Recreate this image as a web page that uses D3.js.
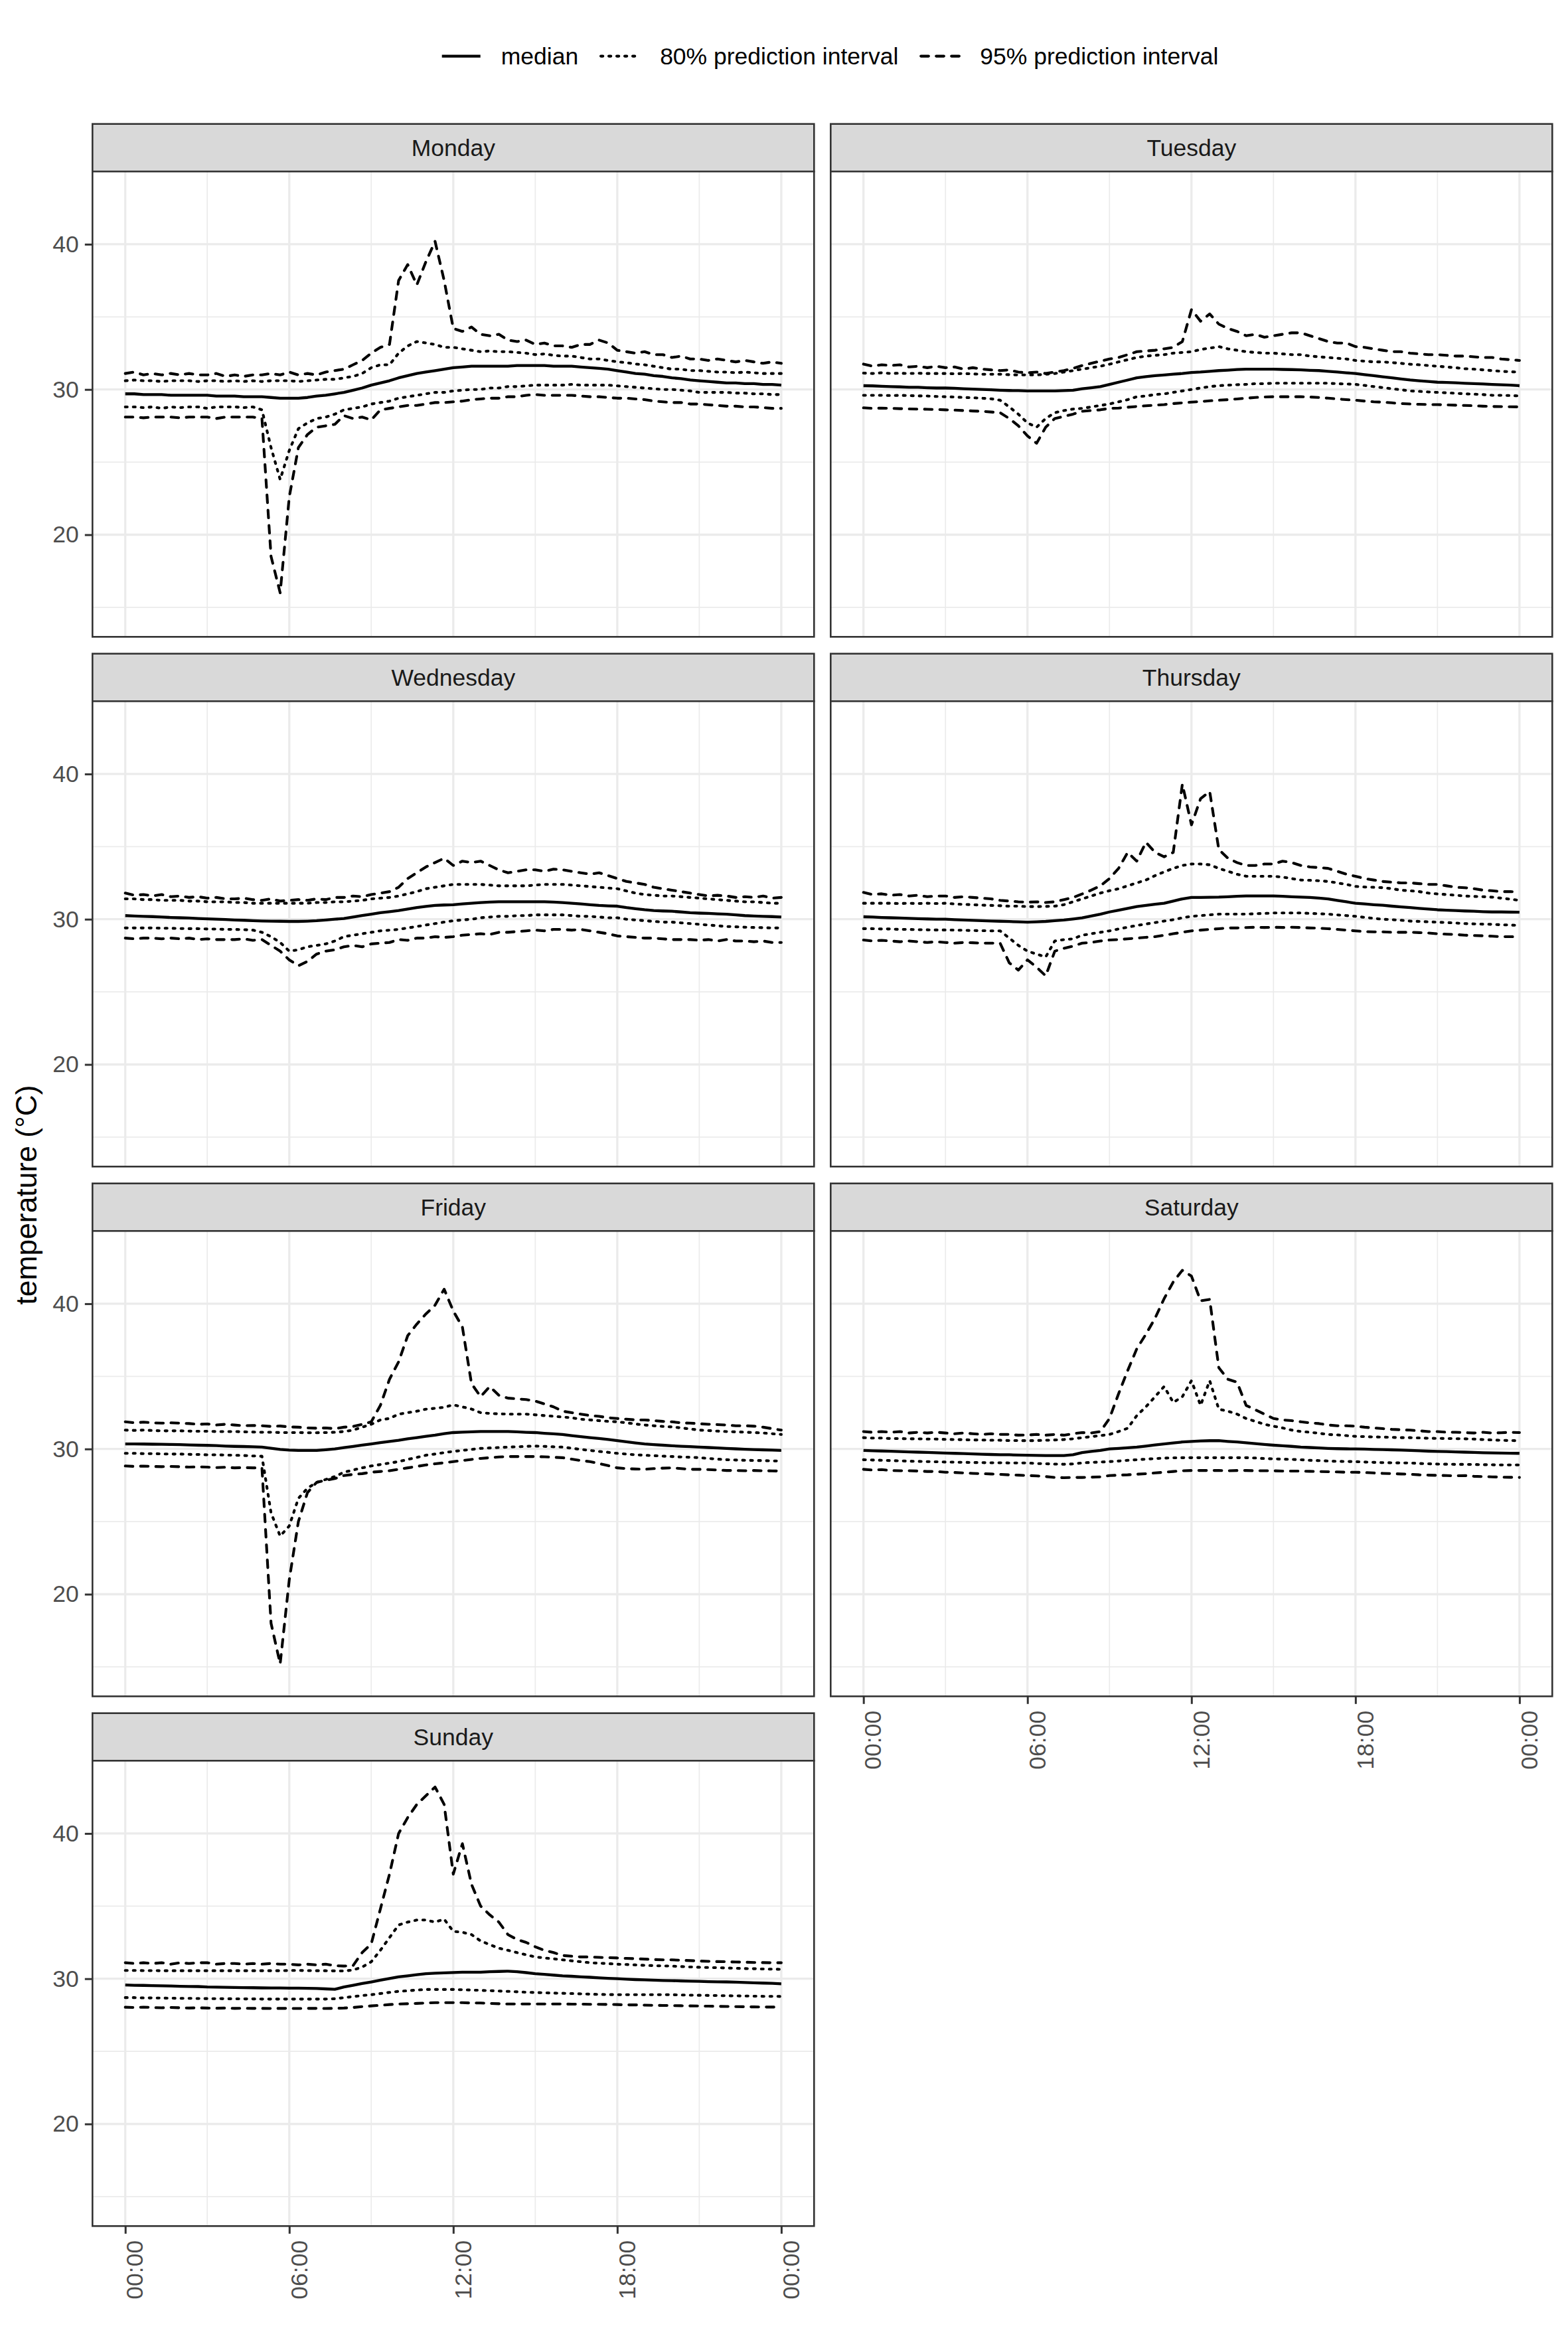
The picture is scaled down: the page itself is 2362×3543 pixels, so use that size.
<!DOCTYPE html>
<html>
<head>
<meta charset="utf-8">
<script src="https://cdn.jsdelivr.net/npm/d3@7"></script>
<style>
  body { margin: 0; background: #fff; }
</style>
</head>
<body>
<div id="chart"></div>
<script>
// ---- data: 20-minute steps from 00:00 to 24:00 (73 values per series) ----
const days = ["Monday", "Tuesday", "Wednesday", "Thursday", "Friday", "Saturday", "Sunday"];
const xTicks = [0, 6, 12, 18, 24];
const xLabels = ["00:00", "06:00", "12:00", "18:00", "00:00"];
const yTicks = [20, 30, 40];
const legendKeys = ["median", "80% prediction interval", "95% prediction interval"];

const monMed = [29.7,29.7,29.65, 29.65,29.65,29.6, 29.6,29.6,29.6, 29.6,29.55,29.55, 29.55,29.5,29.5, 29.5,29.45,29.4,
  29.4,29.4,29.45, 29.55,29.6,29.7, 29.8,29.95,30.1, 30.3,30.45,30.6, 30.8,30.95,31.1, 31.2,31.3,31.4,
  31.5,31.55,31.6, 31.6,31.6,31.6, 31.6,31.65,31.65, 31.65,31.65,31.6, 31.6,31.6,31.55, 31.5,31.45,31.4,
  31.3,31.2,31.1, 31.05,30.95,30.9, 30.8,30.75,30.65, 30.6,30.55,30.5, 30.45,30.45,30.4, 30.4,30.35,30.35, 30.3];
const monHi80 = [30.6,30.65,30.6, 30.6,30.55,30.6, 30.6,30.6,30.55, 30.6,30.6,30.55, 30.6,30.55,30.6, 30.55,30.6,30.6,
  30.6,30.55,30.6, 30.65,30.7,30.7, 30.8,30.9,31.1, 31.5,31.7,31.7, 32.5,33.0,33.3, 33.2,33.1,32.9,
  32.9,32.8,32.7, 32.6,32.65,32.6, 32.6,32.55,32.5, 32.4,32.45,32.35, 32.3,32.3,32.2, 32.1,32.1,32.0,
  31.9,31.85,31.75, 31.7,31.6,31.5, 31.4,31.4,31.3, 31.3,31.25,31.2, 31.2,31.15,31.2, 31.15,31.1,31.1, 31.1];
const monHi95 = [31.1,31.2,31.0, 31.1,31.0,31.1, 31.0,31.1,31.0, 31.0,31.1,30.9, 31.0,30.9,31.0, 31.0,31.1,31.0,
  31.2,31.0,31.1, 31.0,31.2,31.3, 31.4,31.7,32.0, 32.5,32.9,33.1, 37.5,38.6,37.2, 38.8,40.2,37.5,
  34.2,34.0,34.3, 33.8,33.7,33.8, 33.4,33.3,33.4, 33.1,33.2,33.0, 33.0,32.9,33.1, 33.1,33.4,33.2,
  32.7,32.6,32.5, 32.6,32.4,32.4, 32.2,32.3,32.1, 32.1,32.0,32.1, 32.0,31.9,32.0, 31.9,31.8,31.9, 31.8];
const monLo80 = [28.8,28.8,28.75, 28.8,28.7,28.8, 28.75,28.8,28.8, 28.7,28.8,28.8, 28.8,28.75,28.8, 28.6,26.0,23.8,
  25.8,27.3,27.7, 28.0,28.1,28.3, 28.6,28.7,28.8, 29.0,29.1,29.2, 29.4,29.5,29.6, 29.7,29.8,29.8,
  29.9,29.95,30.0, 30.0,30.1,30.1, 30.2,30.2,30.25, 30.3,30.3,30.3, 30.3,30.35,30.3, 30.3,30.3,30.3,
  30.25,30.2,30.15, 30.1,30.05,30.0, 30.0,29.95,29.9, 29.8,29.8,29.8, 29.8,29.75,29.75, 29.7,29.7,29.65, 29.65];
const monLo95 = [28.1,28.1,28.05, 28.1,28.1,28.1, 28.05,28.1,28.1, 28.1,28.0,28.1, 28.1,28.1,28.1, 28.0,18.5,16.0,
  22.6,26.0,26.9, 27.4,27.5,27.6, 28.2,28.0,28.1, 27.9,28.6,28.7, 28.8,28.9,28.9, 29.0,29.1,29.1,
  29.15,29.2,29.3, 29.35,29.4,29.4, 29.5,29.5,29.6, 29.65,29.6,29.6, 29.6,29.6,29.55, 29.5,29.5,29.45,
  29.4,29.4,29.35, 29.3,29.2,29.15, 29.1,29.1,29.0, 29.0,28.95,28.9, 28.85,28.85,28.8, 28.8,28.75,28.7, 28.7];

const tueMed = [30.26,30.25,30.22, 30.2,30.18,30.15, 30.15,30.12,30.1, 30.1,30.08,30.05, 30.03,30.0,29.98, 29.95,29.93,29.92,
  29.9,29.9,29.9, 29.9,29.92,29.95, 30.05,30.12,30.2, 30.35,30.5,30.65, 30.8,30.88,30.95, 31.0,31.05,31.1,
  31.17,31.2,31.25, 31.3,31.33,31.37, 31.4,31.4,31.4, 31.4,31.38,31.37, 31.35,31.32,31.3, 31.25,31.2,31.15,
  31.1,31.02,30.95, 30.87,30.8,30.72, 30.65,30.6,30.55, 30.5,30.48,30.46, 30.43,30.4,30.38, 30.35,30.32,30.3, 30.26];
const tueHi80 = [31.13,31.1,31.15, 31.1,31.12,31.1, 31.12,31.1,31.1, 31.1,31.08,31.1, 31.07,31.05,31.05, 31.05,31.02,31.0,
  31.0,31.0,31.05, 31.1,31.2,31.3, 31.4,31.5,31.6, 31.74,31.9,32.05, 32.2,32.3,32.35, 32.4,32.5,32.55,
  32.6,32.75,32.85, 32.95,32.8,32.7, 32.6,32.55,32.5, 32.5,32.45,32.4, 32.4,32.3,32.25, 32.2,32.15,32.1,
  32.0,31.95,31.9, 31.9,31.85,31.8, 31.74,31.7,31.65, 31.6,31.55,31.5, 31.43,31.4,31.35, 31.3,31.25,31.22, 31.2];
const tueHi95 = [31.75,31.6,31.7, 31.65,31.7,31.55, 31.6,31.5,31.6, 31.5,31.55,31.4, 31.5,31.4,31.35, 31.3,31.35,31.2,
  31.15,31.2,31.1, 31.2,31.3,31.45, 31.65,31.8,31.95, 32.1,32.2,32.4, 32.6,32.65,32.7, 32.8,32.9,33.3,
  35.5,34.7,35.2, 34.5,34.2,34.0, 33.7,33.8,33.6, 33.7,33.8,33.9, 33.9,33.7,33.5, 33.3,33.2,33.2,
  32.95,32.9,32.8, 32.7,32.6,32.6, 32.5,32.45,32.4, 32.4,32.35,32.3, 32.3,32.25,32.2, 32.2,32.1,32.05, 32.0];
const tueLo80 = [29.6,29.6,29.6, 29.58,29.6,29.58, 29.56,29.55,29.52, 29.5,29.48,29.45, 29.43,29.4,29.36, 29.26,28.8,28.3,
  27.7,27.4,28.0, 28.4,28.55,28.65, 28.7,28.8,28.9, 29.0,29.15,29.3, 29.5,29.55,29.65, 29.7,29.8,29.9,
  30.0,30.1,30.2, 30.26,30.3,30.33, 30.35,30.4,30.4, 30.43,30.43,30.43, 30.43,30.43,30.43, 30.43,30.4,30.38,
  30.35,30.28,30.2, 30.13,30.05,29.98, 29.9,29.87,29.83, 29.8,29.77,29.74, 29.7,29.68,29.65, 29.6,29.6,29.58, 29.56];
const tueLo95 = [28.74,28.7,28.72, 28.7,28.68,28.66, 28.65,28.64,28.62, 28.6,28.58,28.55, 28.52,28.5,28.45, 28.4,28.0,27.5,
  26.8,26.3,27.4, 28.0,28.15,28.3, 28.5,28.55,28.6, 28.7,28.72,28.78, 28.83,28.88,28.92, 28.96,29.03,29.08,
  29.13,29.17,29.22, 29.26,29.3,29.35, 29.4,29.45,29.48, 29.5,29.5,29.5, 29.5,29.48,29.45, 29.4,29.35,29.3,
  29.26,29.2,29.15, 29.13,29.08,29.03, 29.0,28.98,28.96, 28.96,28.94,28.92, 28.9,28.88,28.85, 28.83,28.82,28.81, 28.8];

const wedMed = [30.25,30.22,30.2, 30.18,30.15,30.12, 30.1,30.08,30.05, 30.03,30.0,29.98, 29.95,29.93,29.9, 29.88,29.87,29.86,
  29.85,29.85,29.87, 29.9,29.95,30.0, 30.05,30.15,30.25, 30.35,30.45,30.52, 30.6,30.7,30.8, 30.88,30.95,30.98,
  31.0,31.05,31.1, 31.15,31.18,31.2, 31.2,31.2,31.2, 31.2,31.2,31.18, 31.15,31.1,31.05, 31.0,30.95,30.92,
  30.9,30.8,30.72, 30.65,30.6,30.57, 30.55,30.5,30.45, 30.42,30.4,30.37, 30.35,30.3,30.25, 30.22,30.2,30.18, 30.15];
const wedHi80 = [31.4,31.4,31.35, 31.35,31.3,31.3, 31.3,31.25,31.25, 31.2,31.2,31.2, 31.15,31.15,31.1, 31.1,31.1,31.1,
  31.1,31.1,31.1, 31.15,31.15,31.2, 31.2,31.25,31.3, 31.4,31.45,31.5, 31.6,31.75,31.9, 32.1,32.2,32.3,
  32.4,32.4,32.4, 32.4,32.35,32.3, 32.3,32.3,32.3, 32.35,32.4,32.4, 32.4,32.35,32.3, 32.25,32.2,32.15,
  32.1,31.95,31.8, 31.7,31.65,31.6, 31.6,31.55,31.5, 31.45,31.4,31.35, 31.3,31.25,31.2, 31.2,31.15,31.1, 31.1];
const wedHi95 = [31.8,31.65,31.7, 31.6,31.7,31.55, 31.6,31.5,31.55, 31.45,31.5,31.4, 31.4,31.45,31.35, 31.3,31.4,31.25,
  31.3,31.35,31.3, 31.4,31.35,31.5, 31.5,31.6,31.55, 31.7,31.8,31.9, 32.2,32.8,33.2, 33.6,33.9,34.2,
  33.7,34.0,33.9, 34.0,33.7,33.4, 33.2,33.3,33.4, 33.4,33.3,33.45, 33.4,33.3,33.2, 33.1,33.2,33.0,
  32.8,32.6,32.5, 32.4,32.2,32.1, 32.0,31.9,31.8, 31.7,31.6,31.65, 31.6,31.5,31.55, 31.5,31.6,31.45, 31.5];
const wedLo80 = [29.4,29.4,29.4, 29.4,29.38,29.38, 29.36,29.35,29.35, 29.33,29.32,29.3, 29.3,29.28,29.25, 29.1,28.8,28.4,
  27.8,27.9,28.1, 28.2,28.3,28.5, 28.8,28.9,29.0, 29.1,29.2,29.25, 29.3,29.4,29.5, 29.6,29.7,29.8,
  29.9,29.95,30.0, 30.1,30.15,30.2, 30.2,30.25,30.25, 30.3,30.3,30.3, 30.3,30.25,30.2, 30.2,30.15,30.1,
  30.1,30.0,29.95, 29.9,29.85,29.8, 29.8,29.75,29.7, 29.65,29.6,29.55, 29.5,29.48,29.45, 29.43,29.42,29.4, 29.4];
const wedLo95 = [28.7,28.65,28.7, 28.7,28.65,28.7, 28.65,28.7,28.6, 28.65,28.6,28.6, 28.6,28.65,28.55, 28.6,28.2,27.8,
  27.2,26.8,27.1, 27.6,27.8,27.9, 28.1,28.2,28.1, 28.3,28.35,28.4, 28.6,28.55,28.7, 28.7,28.8,28.75,
  28.8,28.9,28.95, 29.0,28.95,29.1, 29.1,29.15,29.2, 29.25,29.2,29.3, 29.3,29.25,29.3, 29.2,29.1,29.0,
  28.85,28.8,28.75, 28.7,28.7,28.65, 28.6,28.6,28.6, 28.55,28.6,28.5, 28.6,28.5,28.5, 28.45,28.5,28.4, 28.4];

const thuMed = [30.17,30.15,30.12, 30.1,30.08,30.06, 30.04,30.02,30.0, 30.0,29.97,29.95, 29.92,29.9,29.88, 29.86,29.84,29.82,
  29.8,29.82,29.85, 29.9,29.95,30.02, 30.1,30.22,30.35, 30.5,30.62,30.75, 30.87,30.95,31.03, 31.1,31.25,31.4,
  31.5,31.5,31.51, 31.52,31.55,31.58, 31.6,31.6,31.6, 31.6,31.58,31.55, 31.52,31.5,31.45, 31.4,31.3,31.2,
  31.1,31.05,31.0, 30.96,30.9,30.85, 30.8,30.75,30.7, 30.65,30.62,30.6, 30.57,30.55,30.52, 30.5,30.5,30.49, 30.48];
const thuHi80 = [31.1,31.1,31.1, 31.1,31.08,31.1, 31.08,31.1,31.08, 31.1,31.05,31.02, 31.0,30.97,30.95, 30.93,30.9,30.9,
  30.87,30.87,30.88, 30.9,31.0,31.2, 31.4,31.6,31.8, 31.96,32.1,32.3, 32.5,32.7,33.0, 33.26,33.5,33.7,
  33.8,33.8,33.75, 33.5,33.3,33.1, 32.96,32.96,32.96, 32.96,32.9,32.8, 32.7,32.68,32.65, 32.6,32.5,32.4,
  32.26,32.22,32.2, 32.17,32.1,32.0, 31.96,31.9,31.8, 31.74,31.7,31.65, 31.6,31.57,31.55, 31.52,31.45,31.38, 31.3];
const thuHi95 = [31.85,31.7,31.75, 31.65,31.7,31.6, 31.65,31.55,31.6, 31.6,31.5,31.55, 31.5,31.45,31.4, 31.3,31.25,31.2,
  31.17,31.2,31.15, 31.2,31.35,31.5, 31.74,32.0,32.3, 32.8,33.5,34.6, 34.0,35.3,34.6, 34.3,34.6,39.3,
  36.5,38.3,38.8, 34.8,34.2,33.9, 33.7,33.7,33.8, 33.8,34.0,33.9, 33.7,33.6,33.55, 33.5,33.3,33.1,
  32.96,32.8,32.7, 32.6,32.55,32.5, 32.5,32.45,32.4, 32.4,32.3,32.2, 32.17,32.1,32.0, 31.96,31.9,31.9, 31.87];
const thuLo80 = [29.35,29.35,29.33, 29.33,29.3,29.3, 29.28,29.27,29.26, 29.26,29.25,29.24, 29.22,29.21,29.2, 29.2,28.7,28.2,
  27.8,27.6,27.4, 28.5,28.6,28.65, 28.9,29.0,29.1, 29.2,29.33,29.45, 29.57,29.67,29.77, 29.87,29.97,30.1,
  30.2,30.25,30.3, 30.35,30.35,30.35, 30.35,30.38,30.4, 30.43,30.43,30.43, 30.43,30.4,30.38, 30.35,30.3,30.25,
  30.2,30.13,30.06, 30.0,29.97,29.93, 29.87,29.85,29.82, 29.8,29.77,29.74, 29.7,29.68,29.66, 29.65,29.62,29.6, 29.57];
const thuLo95 = [28.57,28.5,28.55, 28.5,28.45,28.5, 28.45,28.4,28.45, 28.4,28.35,28.4, 28.38,28.35,28.35, 28.35,27.0,26.5,
  27.2,26.7,26.1, 27.8,28.0,28.15, 28.35,28.4,28.5, 28.57,28.6,28.65, 28.7,28.75,28.8, 28.9,29.0,29.1,
  29.2,29.25,29.3, 29.35,29.4,29.4, 29.43,29.45,29.43, 29.45,29.43,29.45, 29.43,29.4,29.38, 29.35,29.3,29.25,
  29.2,29.15,29.13, 29.13,29.1,29.1, 29.1,29.08,29.05, 29.0,28.97,28.95, 28.9,28.88,28.86, 28.83,28.8,28.8, 28.78];

const friMed = [30.35,30.35,30.34, 30.33,30.32,30.31, 30.3,30.28,30.26, 30.25,30.23,30.2, 30.18,30.17,30.15, 30.13,30.05,29.97,
  29.92,29.9,29.9, 29.9,29.95,30.0, 30.1,30.18,30.27, 30.35,30.44,30.52, 30.6,30.7,30.78, 30.87,30.95,31.05,
  31.13,31.16,31.18, 31.2,31.2,31.2, 31.2,31.18,31.15, 31.13,31.08,31.04, 31.0,30.92,30.85, 30.78,30.72,30.65,
  30.57,30.5,30.42, 30.35,30.3,30.26, 30.22,30.19,30.16, 30.13,30.1,30.07, 30.04,30.01,29.98, 29.96,29.94,29.92, 29.9];
const friHi80 = [31.3,31.28,31.3, 31.27,31.25,31.25, 31.25,31.23,31.22, 31.22,31.2,31.2, 31.2,31.18,31.17, 31.15,31.15,31.13,
  31.13,31.13,31.12, 31.12,31.13,31.15, 31.2,31.3,31.5, 31.7,32.0,32.1, 32.4,32.5,32.6, 32.74,32.8,32.87,
  33.04,32.9,32.75, 32.5,32.45,32.42, 32.4,32.4,32.4, 32.35,32.3,32.25, 32.2,32.15,32.05, 32.0,31.95,31.9,
  31.87,31.8,31.72, 31.65,31.6,31.55, 31.52,31.45,31.38, 31.3,31.27,31.23, 31.2,31.18,31.16, 31.13,31.1,31.05, 31.0];
const friHi95 = [31.87,31.8,31.85, 31.8,31.78,31.8, 31.78,31.75,31.7, 31.72,31.65,31.7, 31.65,31.6,31.62, 31.6,31.55,31.58,
  31.52,31.5,31.45, 31.43,31.45,31.4, 31.5,31.55,31.7, 31.87,33.0,34.8, 36.0,37.8,38.6, 39.3,39.9,41.0,
  39.5,38.4,34.5, 33.6,34.3,33.7, 33.5,33.45,33.4, 33.3,33.1,32.9, 32.6,32.5,32.4, 32.3,32.25,32.15,
  32.1,32.05,32.0, 32.0,31.95,31.9, 31.87,31.8,31.78, 31.74,31.7,31.68, 31.65,31.6,31.6, 31.57,31.5,31.4, 31.3];
const friLo80 = [29.7,29.7,29.68, 29.68,29.66,29.65, 29.65,29.63,29.62, 29.6,29.6,29.58, 29.57,29.55,29.52, 29.5,25.6,24.0,
  24.7,26.6,27.3, 27.7,27.9,28.1, 28.4,28.55,28.7, 28.83,28.93,29.03, 29.13,29.28,29.42, 29.57,29.65,29.75,
  29.83,29.9,29.97, 30.04,30.07,30.1, 30.13,30.15,30.18, 30.2,30.18,30.15, 30.13,30.05,29.97, 29.9,29.83,29.77,
  29.7,29.65,29.6, 29.57,29.54,29.51, 29.48,29.45,29.43, 29.4,29.35,29.3, 29.26,29.24,29.22, 29.21,29.2,29.18, 29.17];
const friLo95 = [28.83,28.8,28.82, 28.8,28.78,28.8, 28.78,28.75,28.77, 28.75,28.72,28.74, 28.7,28.72,28.7, 28.7,18.0,15.2,
  21.0,25.0,27.0, 27.7,27.85,27.96, 28.17,28.25,28.3, 28.4,28.45,28.5, 28.6,28.7,28.8, 28.9,28.98,29.05,
  29.13,29.2,29.28, 29.35,29.4,29.45, 29.48,29.48,29.48, 29.48,29.46,29.43, 29.4,29.3,29.2, 29.13,29.0,28.85,
  28.7,28.65,28.62, 28.6,28.65,28.68, 28.7,28.65,28.6, 28.6,28.58,28.55, 28.52,28.52,28.5, 28.52,28.5,28.49, 28.48];

const satMed = [29.9,29.88,29.86, 29.84,29.82,29.8, 29.78,29.76,29.74, 29.72,29.7,29.68, 29.66,29.64,29.62, 29.6,29.6,29.58,
  29.57,29.56,29.55, 29.55,29.55,29.6, 29.75,29.83,29.9, 30.0,30.04,30.08, 30.13,30.2,30.28, 30.35,30.42,30.48,
  30.52,30.55,30.57, 30.57,30.52,30.48, 30.43,30.37,30.31, 30.26,30.22,30.18, 30.13,30.1,30.07, 30.04,30.02,30.01,
  30.0,29.99,29.97, 29.96,29.94,29.92, 29.9,29.88,29.85, 29.83,29.82,29.8, 29.78,29.76,29.74, 29.73,29.72,29.71, 29.7];
const satHi80 = [30.78,30.75,30.75, 30.72,30.72,30.7, 30.7,30.68,30.68, 30.66,30.65,30.64, 30.62,30.62,30.6, 30.6,30.58,30.58,
  30.57,30.58,30.6, 30.62,30.65,30.7, 30.78,30.85,30.92, 31.0,31.2,31.43, 32.3,32.9,33.6, 34.3,33.2,33.6,
  34.7,33.0,34.7, 32.74,32.6,32.4, 32.1,31.9,31.7, 31.57,31.45,31.3, 31.2,31.15,31.08, 31.0,30.97,30.92,
  30.87,30.85,30.83, 30.82,30.8,30.78, 30.78,30.76,30.74, 30.73,30.72,30.71, 30.7,30.68,30.65, 30.62,30.6,30.58, 30.57];
const satHi95 = [31.2,31.15,31.2, 31.15,31.2,31.1, 31.15,31.1,31.15, 31.1,31.05,31.1, 31.05,31.0,31.05, 31.0,31.0,30.95,
  30.96,31.0,30.95, 31.0,30.95,31.05, 31.13,31.1,31.2, 32.1,33.8,35.4, 36.9,37.9,39.0, 40.35,41.5,42.3,
  41.9,40.2,40.3, 35.6,34.8,34.6, 33.0,32.7,32.4, 32.1,32.0,31.95, 31.87,31.8,31.75, 31.65,31.6,31.6,
  31.57,31.5,31.45, 31.4,31.35,31.32, 31.3,31.25,31.2, 31.2,31.15,31.15, 31.13,31.1,31.15, 31.1,31.12,31.15, 31.13];
const satLo80 = [29.26,29.24,29.22, 29.2,29.18,29.16, 29.15,29.13,29.12, 29.1,29.09,29.08, 29.07,29.06,29.05, 29.05,29.04,29.04,
  29.04,29.0,28.98, 28.96,28.95,28.97, 29.04,29.08,29.1, 29.13,29.17,29.22, 29.26,29.3,29.34, 29.37,29.39,29.4,
  29.4,29.4,29.4, 29.4,29.4,29.4, 29.4,29.38,29.34, 29.32,29.3,29.28, 29.26,29.22,29.2, 29.17,29.15,29.14,
  29.13,29.1,29.08, 29.06,29.05,29.04, 29.04,29.0,28.98, 28.96,28.95,28.94, 28.94,28.93,28.92, 28.91,28.9,28.9, 28.9];
const satLo95 = [28.6,28.55,28.58, 28.52,28.5,28.5, 28.48,28.45,28.45, 28.4,28.38,28.35, 28.32,28.3,28.28, 28.25,28.22,28.2,
  28.17,28.15,28.1, 28.04,28.02,28.04, 28.04,28.06,28.08, 28.17,28.2,28.22, 28.26,28.3,28.35, 28.4,28.45,28.5,
  28.52,28.52,28.52, 28.52,28.5,28.52, 28.52,28.5,28.5, 28.5,28.48,28.48, 28.48,28.46,28.45, 28.43,28.42,28.4,
  28.4,28.38,28.35, 28.32,28.3,28.28, 28.26,28.22,28.2, 28.18,28.17,28.15, 28.17,28.12,28.1, 28.08,28.06,28.05, 28.04];

const sunMed = [29.57,29.55,29.54, 29.52,29.51,29.5, 29.48,29.47,29.46, 29.43,29.42,29.41, 29.4,29.39,29.38, 29.37,29.36,29.36,
  29.35,29.35,29.34, 29.33,29.3,29.27, 29.43,29.55,29.67, 29.78,29.9,30.02, 30.13,30.2,30.28, 30.35,30.38,30.4,
  30.43,30.45,30.45, 30.45,30.48,30.5, 30.52,30.48,30.42, 30.35,30.3,30.25, 30.2,30.17,30.13, 30.1,30.06,30.03,
  30.0,29.97,29.94, 29.92,29.9,29.88, 29.87,29.85,29.83, 29.82,29.8,29.79, 29.78,29.76,29.74, 29.72,29.7,29.68, 29.65];
const sunHi80 = [30.57,30.57,30.56, 30.56,30.55,30.55, 30.55,30.55,30.55, 30.55,30.55,30.55, 30.55,30.55,30.55, 30.55,30.55,30.55,
  30.57,30.57,30.56, 30.55,30.55,30.54, 30.53,30.6,30.8, 31.17,31.96,32.83, 33.7,33.9,34.04, 34.04,33.9,34.1,
  33.26,33.2,33.04, 32.6,32.35,32.1, 31.96,31.8,31.65, 31.5,31.43,31.37, 31.3,31.23,31.17, 31.1,31.07,31.04,
  31.0,30.98,30.95, 30.92,30.9,30.88, 30.87,30.84,30.81, 30.79,30.77,30.76, 30.74,30.72,30.7, 30.69,30.67,30.66, 30.65];
const sunHi95 = [31.1,31.05,31.1, 31.05,31.1,31.0, 31.1,31.05,31.1, 31.1,31.0,31.05, 31.05,31.0,31.05, 31.0,31.05,31.0,
  31.0,30.95,31.0, 30.95,31.0,30.9, 30.87,30.9,31.8, 32.4,34.8,37.2, 40.0,41.1,42.0, 42.6,43.2,42.0,
  37.2,39.3,36.5, 35.0,34.4,33.9, 33.04,32.7,32.5, 32.2,31.95,31.8, 31.6,31.55,31.5, 31.5,31.47,31.45,
  31.43,31.4,31.38, 31.35,31.32,31.3, 31.3,31.27,31.25, 31.22,31.2,31.18, 31.17,31.15,31.14, 31.12,31.11,31.1, 31.1];
const sunLo80 = [28.7,28.7,28.68, 28.68,28.67,28.66, 28.65,28.65,28.64, 28.63,28.63,28.62, 28.62,28.61,28.61, 28.6,28.6,28.6,
  28.6,28.6,28.6, 28.6,28.6,28.62, 28.7,28.77,28.84, 28.9,28.98,29.06, 29.13,29.17,29.22, 29.26,29.26,29.26,
  29.26,29.24,29.22, 29.2,29.18,29.15, 29.13,29.1,29.07, 29.05,29.03,29.01, 29.0,28.98,28.96, 28.94,28.92,28.91,
  28.9,28.9,28.9, 28.9,28.9,28.9, 28.9,28.88,28.87, 28.86,28.85,28.84, 28.83,28.82,28.81, 28.8,28.79,28.79, 28.78];
const sunLo95 = [28.04,28.02,28.04, 28.02,28.0,28.02, 28.0,27.98,28.0, 27.98,27.97,27.98, 27.96,27.97,27.96, 27.96,27.95,27.96,
  27.96,27.95,27.96, 27.96,27.95,27.96, 27.98,28.02,28.08, 28.13,28.17,28.22, 28.26,28.28,28.3, 28.33,28.35,28.35,
  28.35,28.35,28.33, 28.33,28.3,28.28, 28.26,28.26,28.26, 28.26,28.26,28.26, 28.26,28.25,28.25, 28.24,28.24,28.23,
  28.22,28.2,28.2, 28.18,28.17,28.16, 28.15,28.14,28.13, 28.12,28.11,28.1, 28.09,28.08,28.07, 28.06,28.05,28.05, 28.04];

// ---- combine per day ----
const series = [
  { med: monMed, lo80: monLo80, hi80: monHi80, lo95: monLo95, hi95: monHi95 },
  { med: tueMed, lo80: tueLo80, hi80: tueHi80, lo95: tueLo95, hi95: tueHi95 },
  { med: wedMed, lo80: wedLo80, hi80: wedHi80, lo95: wedLo95, hi95: wedHi95 },
  { med: thuMed, lo80: thuLo80, hi80: thuHi80, lo95: thuLo95, hi95: thuHi95 },
  { med: friMed, lo80: friLo80, hi80: friHi80, lo95: friLo95, hi95: friHi95 },
  { med: satMed, lo80: satLo80, hi80: satHi80, lo95: satLo95, hi95: satHi95 },
  { med: sunMed, lo80: sunLo80, hi80: sunHi80, lo95: sunLo95, hi95: sunHi95 }
];
const stepHours = 1 / 3;

// ---- layout ----
const W = 2362, H = 3543;
const FONT = '"Liberation Sans", Arial, Helvetica, sans-serif';
const panelW = 1087, panelH = 701, stripH = 71.6;
const colX = [139.3, 1251.3];
const rowTop = 186.7, rowStep = 798;
const tickLen = 11.5;

const styles = {
  med: { dash: null, width: 4.3 },
  hi80: { dash: "3,9", width: 4.1 },
  lo80: { dash: "3,9", width: 4.1 },
  hi95: { dash: "11.5,11.5", width: 4.1 },
  lo95: { dash: "11.5,11.5", width: 4.1 }
};

const svg = d3.select("#chart").append("svg")
  .attr("width", W)
  .attr("height", H)
  .style("background", "#fff")
  .attr("font-family", FONT);

const x = d3.scaleLinear().domain([-1.2, 25.2]).range([0, panelW]);
const y = d3.scaleLinear().domain([12.97, 45.01]).range([panelH, 0]);

const line = d3.line()
  .x((d, j) => x(j * stepHours))
  .y(d => y(d));

days.forEach((day, i) => {
  const col = i % 2, row = Math.floor(i / 2);
  const g = svg.append("g")
    .attr("transform", "translate(" + colX[col] + "," + (rowTop + row * rowStep) + ")");

  // strip
  g.append("rect")
    .attr("width", panelW).attr("height", stripH)
    .attr("fill", "#D9D9D9").attr("stroke", "#333333").attr("stroke-width", 2.6);
  g.append("text")
    .attr("x", panelW / 2).attr("y", stripH / 2).attr("dy", "0.36em")
    .attr("text-anchor", "middle")
    .attr("font-size", 35.5).attr("fill", "#1A1A1A")
    .text(day);

  const p = g.append("g").attr("transform", "translate(0," + stripH + ")");
  p.append("rect").attr("width", panelW).attr("height", panelH).attr("fill", "#fff");

  // grid
  p.selectAll(".gym").data([15, 25, 35]).join("line")
    .attr("x1", 0).attr("x2", panelW).attr("y1", d => y(d)).attr("y2", d => y(d))
    .attr("stroke", "#EBEBEB").attr("stroke-width", 1.7);
  p.selectAll(".gxm").data([3, 9, 15, 21]).join("line")
    .attr("y1", 0).attr("y2", panelH).attr("x1", d => x(d)).attr("x2", d => x(d))
    .attr("stroke", "#EBEBEB").attr("stroke-width", 1.7);
  p.selectAll(".gy").data(yTicks).join("line")
    .attr("x1", 0).attr("x2", panelW).attr("y1", d => y(d)).attr("y2", d => y(d))
    .attr("stroke", "#EBEBEB").attr("stroke-width", 3.3);
  p.selectAll(".gx").data(xTicks).join("line")
    .attr("y1", 0).attr("y2", panelH).attr("x1", d => x(d)).attr("x2", d => x(d))
    .attr("stroke", "#EBEBEB").attr("stroke-width", 3.3);

  // lines
  ["lo95", "hi95", "lo80", "hi80", "med"].forEach(k => {
    p.append("path")
      .datum(series[i][k])
      .attr("d", line)
      .attr("fill", "none")
      .attr("stroke", "#000")
      .attr("stroke-width", styles[k].width)
      .attr("stroke-dasharray", styles[k].dash)
      .attr("stroke-linecap", styles[k].dash ? "round" : "butt")
      .attr("stroke-linejoin", "round");
  });

  // border
  p.append("rect")
    .attr("width", panelW).attr("height", panelH)
    .attr("fill", "none").attr("stroke", "#333333").attr("stroke-width", 2.6);

  // y axis on left column
  if (col === 0) {
    const ya = p.append("g")
      .call(d3.axisLeft(y).tickValues(yTicks).tickSize(tickLen).tickPadding(9));
    ya.attr("font-family", FONT).attr("font-size", 35.5);
    ya.select(".domain").remove();
    ya.selectAll("line").attr("stroke", "#333333").attr("stroke-width", 3);
    ya.selectAll("text").attr("fill", "#4D4D4D");
  }

  // x axis under Saturday and Sunday
  if (i === 5 || i === 6) {
    const xa = p.append("g")
      .attr("transform", "translate(0," + panelH + ")")
      .call(d3.axisBottom(x).tickValues(xTicks).tickSize(tickLen).tickFormat((d, j) => xLabels[j]));
    xa.attr("font-family", FONT).attr("font-size", 35.5);
    xa.select(".domain").remove();
    xa.selectAll("line").attr("stroke", "#333333").attr("stroke-width", 3);
    xa.selectAll("text")
      .attr("fill", "#4D4D4D")
      .attr("transform", "rotate(-90)")
      .attr("text-anchor", "end")
      .attr("x", -(tickLen + 10))
      .attr("y", 0)
      .attr("dy", "0.74em");
  }
});

// y axis title
svg.append("text")
  .attr("transform", "translate(55,1800) rotate(-90)")
  .attr("text-anchor", "middle")
  .attr("font-size", 44.4)
  .attr("fill", "#000")
  .text("temperature (°C)");

// legend
const legendStyle = [styles.med, styles.hi80, styles.hi95];
let lx = 665.7;
const ly = 84.6;
legendKeys.forEach((k, i) => {
  svg.append("line")
    .attr("x1", lx).attr("x2", lx + 58).attr("y1", ly).attr("y2", ly)
    .attr("stroke", "#000")
    .attr("stroke-width", 4.3)
    .attr("stroke-dasharray", legendStyle[i].dash)
    .attr("stroke-linecap", legendStyle[i].dash ? "round" : "butt");
  const t = svg.append("text")
    .attr("x", lx + 89).attr("y", ly).attr("dy", "0.36em")
    .attr("font-size", 35.5).attr("fill", "#000")
    .text(k);
  lx = lx + 89 + t.node().getComputedTextLength() + 34;
});
</script>
</body>
</html>
